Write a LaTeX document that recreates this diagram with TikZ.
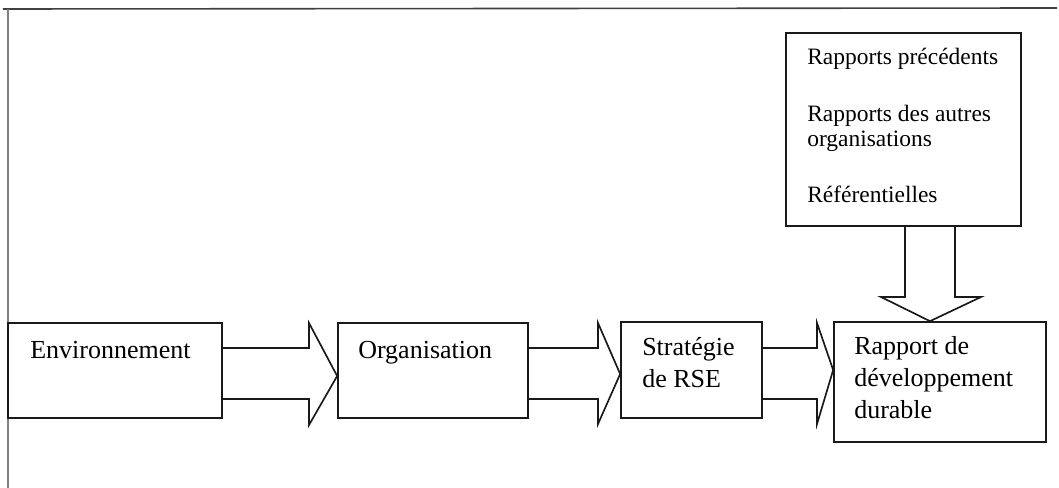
\documentclass[tikz,border=0pt]{standalone}
\usepackage{fontspec}
\setmainfont{Liberation Serif}
\usetikzlibrary{fit,calc}
\tikzset{
  box/.style={draw=black!90, line width=1.25pt, inner sep=0pt},
  blk/.style={draw=black!90, line width=1.25pt, line join=miter},
  lbl/.style={anchor=base west, inner sep=0pt, font=\fontsize{19.5}{24}\selectfont, align=left},
  slbl/.style={anchor=base west, inner sep=0pt, font=\fontsize{17.6}{18.75}\selectfont, align=left},
  framet/.style={draw=black!75, line width=1.2pt},
  framel/.style={draw=black!50, line width=0.8pt}
}
\begin{document}
\begin{tikzpicture}[x=0.75pt,y=-0.75pt]
\useasboundingbox (0,0) rectangle (1059,488);
% frame
\coordinate (fTL) at (3,9);
\coordinate (fTR) at (1057,8);
\coordinate (fLT) at (8,9);
\coordinate (fBL) at (8,488);
\draw[framet] (fTL) -- (fTR);
\draw[framel] (fLT) -- (fBL);
% boxes
\node[box, fit={(8,323) (222,418)}] (env) {};
\node[box, fit={(338,323) (528,418)}] (org) {};
\node[box, fit={(621,322) (762,418)}] (str) {};
\node[box, fit={(834,322) (1046,442)}] (rap) {};
\node[box, fit={(786,33) (1021,226)}] (src) {};
% labels (base anchor = baseline of last line)
\node[lbl] (tenv) at (30,358) {Environnement};
\node[lbl] (torg) at (358,358) {Organisation};
\node[lbl] (tstr) at (642,387) {Stratégie\\de RSE};
\node[lbl] (trap) at (854,418) {Rapport de\\développement\\durable};
\node[slbl] (ts1) at (807,65) {Rapports précédents};
\node[slbl] (ts2) at (807,147) {Rapports des autres\\organisations};
\node[slbl] (ts3) at (807,203) {Référentielles};
% block arrows
\draw[blk] (env.east |- 0,348) -- (309,348) -- (309,323) -- (org.west |- 0,376)
  -- (309,425) -- (309,399) -- (env.east |- 0,399);
\draw[blk] (org.east |- 0,348) -- (598,348) -- (598,323) -- (str.west |- 0,374)
  -- (598,424) -- (598,399) -- (org.east |- 0,399);
\draw[blk] (str.east |- 0,348) -- (817,348) -- (817,323) -- (rap.west |- 0,370)
  -- (817,424) -- (817,399) -- (str.east |- 0,399);
\draw[blk] (src.south -| 905,0) -- (905,297) -- (881,297) -- (rap.north -| 930,0)
  -- (981,297) -- (955,297) -- (src.south -| 955,0);
\end{tikzpicture}
\end{document}
